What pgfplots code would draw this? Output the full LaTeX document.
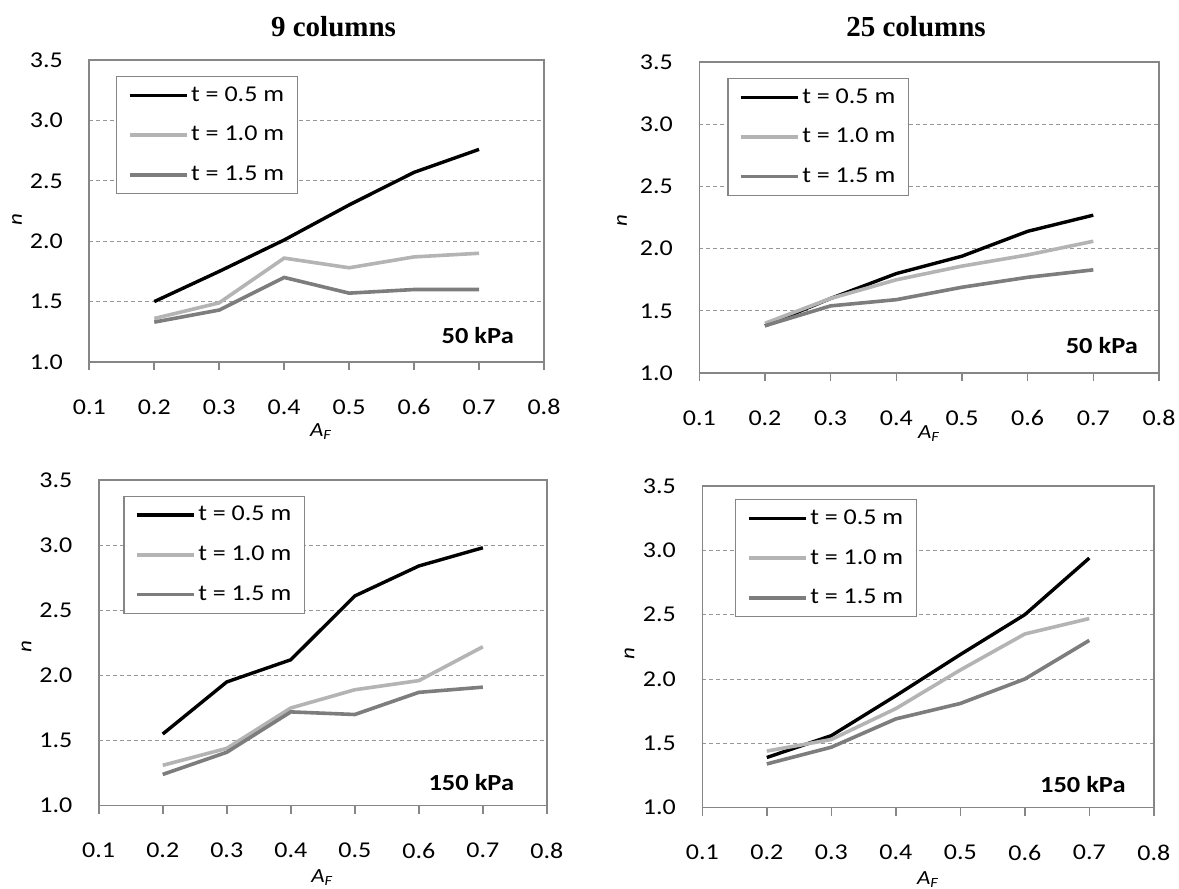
\documentclass[border=0pt]{standalone}
\usepackage{pgfplots}
\pgfplotsset{compat=1.18}
\usepackage{fontspec}
\setmainfont{Carlito}[FakeStretch=1.15]
\newfontfamily\titlefont{Liberation Serif}
\definecolor{lgray}{RGB}{180,180,180}
\definecolor{mgray}{RGB}{125,125,125}
\definecolor{framegray}{RGB}{134,134,134}
\definecolor{gridgray}{RGB}{150,150,150}
\pgfplotsset{
  panel/.style={
    scale only axis,
    xmin=0.1, xmax=0.8, ymin=1, ymax=3.5,
    xtick={0.1,0.2,0.3,0.4,0.5,0.6,0.7,0.8},
    ytick={1.0,1.5,2.0,2.5,3.0,3.5},
    /pgf/number format/assume math mode=true,
    /pgf/number format/.cd, fixed, fixed zerofill, precision=1, /pgfplots/.cd,
    tick label style={font=\fontsize{11.3}{13}\selectfont, text=black},
    xticklabel style={anchor=center, yshift=-18.5pt},
    yticklabel style={anchor=east, inner sep=0pt, xshift=-9pt},
    tick align=outside, major tick length=4pt,
    xtick pos=left, ytick pos=left,
    xtick style={draw=framegray, line width=0.8pt},
    ytick style={draw=none},
    axis line style={draw=framegray, line width=0.8pt},
    ymajorgrids,
    grid style={draw=gridgray, dash pattern=on 2pt off 1.5pt, line width=0.5pt},
    label style={font=\fontsize{11.3}{13}\selectfont},
    ylabel={\textit{n}},
    xlabel={\textit{A}\textsubscript{\textit{F}}},
    legend cell align=left,
    legend image code/.code={\draw[#1] (0pt,0pt) -- (28.7pt,0pt);},
    legend style={anchor=north west, draw=framegray, line width=0.6pt,
      font=\fontsize{11.3}{13}\selectfont, inner xsep=5.5pt, inner ysep=3pt,
      row sep=7pt, nodes={inner xsep=1.2pt}},
  },
  s1/.style={black, line width=1.7pt},
  s2/.style={lgray, line width=1.8pt},
  s3/.style={mgray, line width=1.8pt},
}
\newcommand{\kpa}[1]{{\fontsize{11.5}{13}\selectfont\bfseries #1}}
\begin{document}
\begin{tikzpicture}
\path[use as bounding box] (0pt,0pt) rectangle (589.5pt,444.5pt);
\node[font=\titlefont\fontsize{14.5}{16}\selectfont\bfseries] at (166.75pt,431pt) {9 columns};
\node[font=\titlefont\fontsize{14.5}{16}\selectfont\bfseries] at (458pt,431pt) {25 columns};
% panel 1
\begin{axis}[panel, at={(44.65pt,263.5pt)}, anchor=south west, width=227.35pt, height=151pt,
  legend style={at={(0.059,0.947)}},
  every axis y label/.style={at={(axis description cs:-0.159,0.47)}, rotate=90, anchor=center},
  every axis x label/.style={at={(axis description cs:0.51,-0.23)}, anchor=center}]
\addplot[s1] coordinates {(0.2,1.50)(0.3,1.75)(0.4,2.01)(0.5,2.30)(0.6,2.57)(0.7,2.76)};
\addplot[s2] coordinates {(0.2,1.36)(0.3,1.49)(0.4,1.86)(0.5,1.78)(0.6,1.87)(0.7,1.90)};
\addplot[s3] coordinates {(0.2,1.33)(0.3,1.43)(0.4,1.70)(0.5,1.57)(0.6,1.60)(0.7,1.60)};
\legend{t = 0.5 m, t = 1.0 m, t = 1.5 m}
\node at (axis cs:0.698,1.22) {\kpa{50 kPa}};
\end{axis}
% panel 2
\begin{axis}[panel, at={(349.65pt,258pt)}, anchor=south west, width=229.85pt, height=155.35pt,
  legend style={at={(0.061,0.950)}},
  every axis y label/.style={at={(axis description cs:-0.168,0.49)}, rotate=90, anchor=center},
  every axis x label/.style={at={(axis description cs:0.50,-0.195)}, anchor=center}]
\addplot[s1] coordinates {(0.2,1.38)(0.3,1.60)(0.4,1.80)(0.5,1.94)(0.6,2.14)(0.7,2.27)};
\addplot[s2] coordinates {(0.2,1.40)(0.3,1.60)(0.4,1.75)(0.5,1.86)(0.6,1.95)(0.7,2.06)};
\addplot[s3] coordinates {(0.2,1.38)(0.3,1.54)(0.4,1.59)(0.5,1.69)(0.6,1.77)(0.7,1.83)};
\legend{t = 0.5 m, t = 1.0 m, t = 1.5 m}
\node at (axis cs:0.713,1.225) {\kpa{50 kPa}};
\end{axis}
% panel 3
\begin{axis}[panel, at={(49.35pt,41.65pt)}, anchor=south west, width=224.1pt, height=162.85pt,
  legend style={at={(0.055,0.952)}},
  every axis y label/.style={at={(axis description cs:-0.161,0.49)}, rotate=90, anchor=center},
  every axis x label/.style={at={(axis description cs:0.499,-0.22)}, anchor=center}]
\addplot[s1] coordinates {(0.2,1.55)(0.3,1.95)(0.4,2.12)(0.5,2.61)(0.6,2.84)(0.7,2.98)};
\addplot[s2] coordinates {(0.2,1.31)(0.3,1.44)(0.4,1.75)(0.5,1.89)(0.6,1.96)(0.7,2.22)};
\addplot[s3] coordinates {(0.2,1.24)(0.3,1.41)(0.4,1.72)(0.5,1.70)(0.6,1.87)(0.7,1.91)};
\legend{t = 0.5 m, t = 1.0 m, t = 1.5 m}
\node at (axis cs:0.682,1.18) {\kpa{150 kPa}};
\end{axis}
% panel 4
\begin{axis}[panel, at={(351.15pt,40.65pt)}, anchor=south west, width=225.75pt, height=160.85pt,
  legend style={at={(0.073,0.959)}},
  every axis y label/.style={at={(axis description cs:-0.161,0.48)}, rotate=90, anchor=center},
  every axis x label/.style={at={(axis description cs:0.50,-0.225)}, anchor=center}]
\addplot[s1] coordinates {(0.2,1.39)(0.3,1.56)(0.4,1.87)(0.5,2.19)(0.6,2.50)(0.7,2.94)};
\addplot[s2] coordinates {(0.2,1.44)(0.3,1.53)(0.4,1.77)(0.5,2.07)(0.6,2.35)(0.7,2.47)};
\addplot[s3] coordinates {(0.2,1.34)(0.3,1.47)(0.4,1.69)(0.5,1.81)(0.6,2.00)(0.7,2.30)};
\legend{t = 0.5 m, t = 1.0 m, t = 1.5 m}
\node at (axis cs:0.69,1.18) {\kpa{150 kPa}};
\end{axis}
\end{tikzpicture}
\end{document}
